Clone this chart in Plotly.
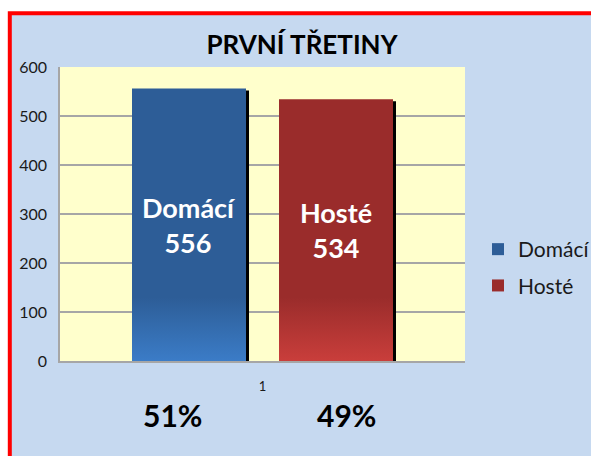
import plotly.graph_objects as go

# ---- data ----
categories = ["1"]
series_names = ["Domácí", "Hosté"]
series_values = [556, 534]
y_ticks = [0, 100, 200, 300, 400, 500, 600]
title_text = "PRVNÍ TŘETINY"

# ---- style ----
W, H = 591, 456
ML, MR, MT, MB = 60, 126, 67, 95
PW, PH = W - ML - MR, H - MT - MB
dark = ["#2d5d97", "#9a2c2b"]
light = ["#3b7cc7", "#c93e3b"]
FONT = "Lato"
bar_w = 114 / PW
offsets = [-(73.5 + 57) / PW, (73.5 - 57) / PW]
shadow_dx = 3 / PW
shadow_dy = 2 * 600 / PH
grad_h = 130

total = sum(series_values)
fig = go.Figure()

# shadows
for i, v in enumerate(series_values):
    fig.add_trace(go.Bar(
        x=[1], y=[v], base=[-shadow_dy], width=[bar_w],
        offset=offsets[i] + shadow_dx, marker=dict(color="black", line=dict(width=0)),
        showlegend=False, hoverinfo="skip"))

# bars
for i, (name, v) in enumerate(zip(series_names, series_values)):
    fig.add_trace(go.Bar(
        x=[1], y=[v], width=[bar_w], offset=offsets[i], name=name,
        legendgroup=name,
        marker=dict(color=dark[i], line=dict(width=0)),
        text=[f"{name}<br>{v}"], textposition="inside", insidetextanchor="middle",
        textfont=dict(family=FONT, size=27, color="white", weight="bold"),
        textangle=0))

# gradient overlays at the bottom of the bars
for i, v in enumerate(series_values):
    x0 = 1 + offsets[i]
    x1 = x0 + bar_w
    h = min(v, grad_h)
    fig.add_trace(go.Scatter(
        x=[x0, x1, x1, x0, x0], y=[0, 0, h, h, 0], mode="none", fill="toself",
        fillgradient=dict(type="vertical", colorscale=[[0, light[i]], [1, dark[i]]],
                          start=0, stop=h),
        showlegend=False, hoverinfo="skip"))

# percentage labels
pct_x = [(172 - ML) / PW, (346 - ML) / PW]
for i, v in enumerate(series_values):
    fig.add_annotation(x=pct_x[i], y=-(415 - (MT + PH)) / PH, xanchor="center", yanchor="middle",
                       xref="paper", yref="paper", text=f"{round(100 * v / total)}%",
                       showarrow=False, font=dict(family=FONT, size=30, color="black", weight="bold"))

# chart frame
fig.add_shape(type="rect", xref="paper", yref="paper", layer="below",
              x0=(9.8 - ML) / PW, x1=(W + 20 - ML) / PW,
              y0=-(H + 20 - MT - PH) / PH, y1=(MT + PH - 13.3) / PH,
              fillcolor="#c6d9f0", line=dict(color="#ff0000", width=4))
# plot area background (drawn over the frame fill)
fig.add_shape(type="rect", xref="paper", yref="paper", layer="below",
              x0=0, x1=1, y0=0, y1=1, fillcolor="#ffffcc", line=dict(width=0))

fig.update_layout(
    width=W, height=H, margin=dict(l=ML, r=MR, t=MT, b=MB, autoexpand=False),
    paper_bgcolor="white", plot_bgcolor="rgba(0,0,0,0)",
    barmode="overlay",
    font=dict(family=FONT, color="#1a1a1a"),
    title=dict(text=title_text, x=302 / W, xref="container", xanchor="center",
               y=1 - 45 / H, yref="container", yanchor="middle",
               font=dict(family=FONT, size=26, color="black", weight="bold")),
    xaxis=dict(range=[0.5, 1.5], tickvals=[1], ticktext=categories, showgrid=False,
               showline=True, linecolor="#a6a6a6", linewidth=1.5, zeroline=False,
               tickfont=dict(size=13), ticks="", ticklabelstandoff=13),
    yaxis=dict(range=[0, 600], tickvals=y_ticks, showgrid=True, gridcolor="#a6a6a6",
               gridwidth=2, showline=True, linecolor="#a6a6a6", linewidth=1.5,
               zeroline=False, tickfont=dict(size=16), ticks="", ticklabelstandoff=8),
    legend=dict(x=(478 - ML) / PW, xanchor="left", y=(MT + PH - 229) / PH, yanchor="top",
                font=dict(size=21, color="#1a1a1a"), bgcolor="rgba(0,0,0,0)",
                tracegroupgap=6),
    showlegend=True,
)

fig.write_html("out.html", config={"displayModeBar": False},
               post_script="document.body.style.margin='0';document.body.style.overflow='hidden';")
